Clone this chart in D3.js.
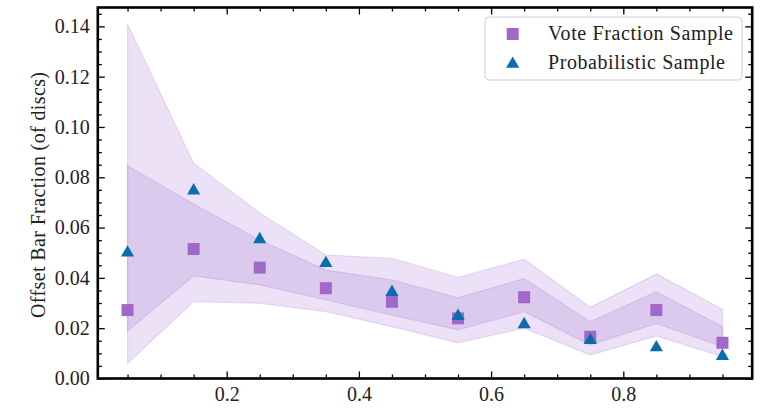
<!DOCTYPE html>
<html>
<head>
<meta charset="utf-8">
<script src="https://cdn.jsdelivr.net/npm/d3@7"></script>
<style>
  html, body { margin: 0; padding: 0; background: #fff; }
  svg { display: block; }
  text { font-family: "Liberation Serif", "DejaVu Serif", serif; fill: #222; }
</style>
</head>
<body>
<svg id="chart" width="771" height="411"></svg>
<script>
// Bin centres (bar-fraction bins)
const binCentres = [0.05, 0.15, 0.25, 0.35, 0.45, 0.55, 0.65, 0.75, 0.85, 0.95];

// Vote-fraction sample: offset-bar fraction per bin
const voteFraction = [0.0272, 0.0515, 0.0441, 0.0359, 0.0305, 0.0239, 0.0323, 0.0166, 0.0272, 0.0142];

// Probabilistic sample: offset-bar fraction per bin
const probabilistic = [0.0504, 0.0751, 0.0557, 0.0462, 0.0347, 0.0252, 0.0219, 0.0156, 0.0127, 0.0093];

// Inner (1-sigma) band
const innerLower = [0.0189, 0.0408, 0.0372, 0.0312, 0.0252, 0.0193, 0.0266, 0.0133, 0.0219, 0.0127];
const innerUpper = [0.0846, 0.0694, 0.0551, 0.0431, 0.0392, 0.0321, 0.0398, 0.0226, 0.0345, 0.0206];

// Outer (2-sigma) band
const outerLower = [0.0060, 0.0306, 0.0299, 0.0266, 0.0206, 0.0142, 0.0200, 0.0093, 0.0169, 0.0087];
const outerUpper = [0.1408, 0.0856, 0.0658, 0.0491, 0.0478, 0.0402, 0.0474, 0.0283, 0.0416, 0.0275];

// Axis ticks
const xMajorTicks = [0.2, 0.4, 0.6, 0.8];
const yMajorTicks = [0.00, 0.02, 0.04, 0.06, 0.08, 0.10, 0.12, 0.14];
const xMinorTicks = d3.range(0.05, 1.0, 0.05).filter(v => Math.abs(v / 0.2 - Math.round(v / 0.2)) > 1e-6);
const yMinorTicks = d3.range(0.005, 0.147, 0.005).filter(v => Math.abs(v / 0.02 - Math.round(v / 0.02)) > 1e-6);

const seriesNames = ["Vote Fraction Sample", "Probabilistic Sample"];
const legendWidths = [185, 177];
const purple = "#a069c9";
const blue = "#0a6eae";
const bandBase = "#a26ad0";
const fontSize = 20;

const svg = d3.select("#chart");
const box = { left: 97.8, right: 752.2, top: 7.5, bottom: 378.5 };

const x = d3.scaleLinear().domain([0.005, 0.995]).range([box.left, box.right]);
const y = d3.scaleLinear().domain([0, 0.1475]).range([box.bottom, box.top]);

const rows = binCentres.map((c, i) => ({
  c, v: voteFraction[i], p: probabilistic[i],
  il: innerLower[i], iu: innerUpper[i], ol: outerLower[i], ou: outerUpper[i]
}));

const plot = svg.append("g");
plot.append("clipPath").attr("id", "clip")
  .append("rect").attr("x", box.left).attr("y", box.top)
  .attr("width", box.right - box.left).attr("height", box.bottom - box.top);
const inner = plot.append("g").attr("clip-path", "url(#clip)");

// Shaded bands, each drawn with translucent fill so the overlap darkens
const outerArea = d3.area().x(d => x(d.c)).y0(d => y(d.ol)).y1(d => y(d.ou));
const innerArea = d3.area().x(d => x(d.c)).y0(d => y(d.il)).y1(d => y(d.iu));
inner.append("path").datum(rows).attr("d", outerArea)
  .attr("fill", bandBase).attr("fill-opacity", 0.2)
  .attr("stroke", bandBase).attr("stroke-opacity", 0.2).attr("stroke-width", 1.2);
inner.append("path").datum(rows).attr("d", innerArea)
  .attr("fill", bandBase).attr("fill-opacity", 0.2)
  .attr("stroke", bandBase).attr("stroke-opacity", 0.2).attr("stroke-width", 1.2);

// Markers
const sq = 12;
inner.selectAll("rect.vote").data(rows).join("rect").attr("class", "vote")
  .attr("x", d => x(d.c) - sq / 2).attr("y", d => y(d.v) - sq / 2)
  .attr("width", sq).attr("height", sq).attr("fill", purple);

const tri = d3.symbol().type(d3.symbolTriangle).size(75);
inner.selectAll("path.prob").data(rows).join("path").attr("class", "prob")
  .attr("d", tri).attr("transform", d => `translate(${x(d.c)},${y(d.p) + 1})`)
  .attr("fill", blue);

// Axes with inward ticks on all four sides
function styleAxis(g) {
  g.select(".domain").remove();
  g.selectAll(".tick line").attr("stroke", "#000").attr("stroke-width", 1.3);
  g.selectAll(".tick text").attr("font-size", fontSize).attr("fill", "#222")
    .style("font-family", '"Liberation Serif", "DejaVu Serif", serif');
}
const fmt2 = d3.format(".2f"), fmt1 = d3.format(".1f");

svg.append("g").attr("transform", `translate(0,${box.bottom})`)
  .call(d3.axisBottom(x).tickValues(xMajorTicks).tickFormat(fmt1).tickSize(-7).tickSizeOuter(0).tickPadding(8.5))
  .call(styleAxis);
svg.append("g").attr("transform", `translate(0,${box.bottom})`)
  .call(d3.axisBottom(x).tickValues(xMinorTicks).tickFormat("").tickSize(-4).tickSizeOuter(0))
  .call(styleAxis);
svg.append("g").attr("transform", `translate(0,${box.top})`)
  .call(d3.axisTop(x).tickValues(xMajorTicks).tickFormat("").tickSize(-7).tickSizeOuter(0))
  .call(styleAxis);
svg.append("g").attr("transform", `translate(0,${box.top})`)
  .call(d3.axisTop(x).tickValues(xMinorTicks).tickFormat("").tickSize(-4).tickSizeOuter(0))
  .call(styleAxis);

svg.append("g").attr("transform", `translate(${box.left},0)`)
  .call(d3.axisLeft(y).tickValues(yMajorTicks).tickFormat(fmt2).tickSize(-7).tickSizeOuter(0).tickPadding(8))
  .call(styleAxis);
svg.append("g").attr("transform", `translate(${box.left},0)`)
  .call(d3.axisLeft(y).tickValues(yMinorTicks).tickFormat("").tickSize(-4).tickSizeOuter(0))
  .call(styleAxis);
svg.append("g").attr("transform", `translate(${box.right},0)`)
  .call(d3.axisRight(y).tickValues(yMajorTicks).tickFormat("").tickSize(-7).tickSizeOuter(0))
  .call(styleAxis);
svg.append("g").attr("transform", `translate(${box.right},0)`)
  .call(d3.axisRight(y).tickValues(yMinorTicks).tickFormat("").tickSize(-4).tickSizeOuter(0))
  .call(styleAxis);

// Frame
svg.append("rect").attr("x", box.left).attr("y", box.top)
  .attr("width", box.right - box.left).attr("height", box.bottom - box.top)
  .attr("fill", "none").attr("stroke", "#000").attr("stroke-width", 2.6);

// Y axis title
svg.append("text")
  .attr("transform", `translate(45,195) rotate(-90)`)
  .attr("text-anchor", "middle").attr("font-size", fontSize)
  .attr("textLength", 246).attr("lengthAdjust", "spacing")
  .text("Offset Bar Fraction (of discs)");

// Legend
const lg = svg.append("g");
lg.append("rect").attr("x", 485).attr("y", 17).attr("width", 257).attr("height", 63)
  .attr("rx", 4).attr("fill", "#fff").attr("fill-opacity", 0.8)
  .attr("stroke", "#d0d0d0").attr("stroke-width", 1);
lg.append("rect").attr("x", 512.7 - sq / 2).attr("y", 34 - sq / 2).attr("width", sq).attr("height", sq).attr("fill", purple);
lg.append("path").attr("d", tri).attr("transform", "translate(512.7,64)").attr("fill", blue);
lg.selectAll("text.leg").data(seriesNames).join("text").attr("class", "leg")
  .attr("x", 548).attr("y", (d, i) => 40 + i * 28.5)
  .attr("font-size", fontSize)
  .attr("textLength", (d, i) => legendWidths[i]).attr("lengthAdjust", "spacing")
  .text(d => d);
</script>
</body>
</html>
